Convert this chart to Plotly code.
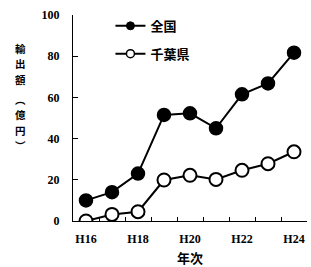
import plotly.graph_objects as go

years = ["H16", "H17", "H18", "H19", "H20", "H21", "H22", "H23", "H24"]
tick_labels = ["H16", "", "H18", "", "H20", "", "H22", "", "H24"]
national = [10, 14, 23, 51.5, 52.3, 45, 61.5, 66.8, 81.7]
chiba = [0, 3.2, 4.5, 19.9, 22.2, 20.2, 24.6, 27.8, 33.6]
y_ticks = [0, 20, 40, 60, 80, 100]
ytitle_top = ["輸", "出", "額"]
ytitle_bottom = ["︵", "億", "円", "︶"]

W, H = 311, 267
L, R, T, B = 73, 4, 15, 46
pw, ph = W - L - R, H - T - B


def px_to_paper(xp, yp):
    return (xp - L) / pw, (H - B - yp) / ph


fig = go.Figure()
fig.add_trace(go.Scatter(x=years, y=national, mode="lines+markers", showlegend=False,
                         line=dict(color="black", width=2),
                         marker=dict(size=13, color="black", line=dict(color="black", width=1.5))))
fig.add_trace(go.Scatter(x=years, y=chiba, mode="lines+markers", showlegend=False,
                         line=dict(color="black", width=2),
                         marker=dict(size=13, color="white", line=dict(color="black", width=2))))
# legend entries with smaller markers
fig.add_trace(go.Scatter(x=[None], y=[None], mode="lines+markers", name="全国", legendgroup="a",
                         line=dict(color="black", width=2),
                         marker=dict(size=8, color="black", line=dict(color="black", width=1))))
fig.add_trace(go.Scatter(x=[None], y=[None], mode="lines+markers", name="千葉県", legendgroup="b",
                         line=dict(color="black", width=2),
                         marker=dict(size=8, color="white", line=dict(color="black", width=1.5))))


def stacked(chars):
    return "<br>".join('<span style="font-size:10.5px">%s</span>' % c for c in chars)


anns = []
x1, y1 = px_to_paper(20, 64)
anns.append(dict(x=x1, y=y1, xref="paper", yref="paper", text=stacked(ytitle_top), showarrow=False,
                 font=dict(family="Noto Sans CJK JP", size=11.9, color="black", weight="bold"),
                 xanchor="center", yanchor="middle"))
x2, y2 = px_to_paper(20, 122)
anns.append(dict(x=x2, y=y2, xref="paper", yref="paper", text=stacked(ytitle_bottom), showarrow=False,
                 font=dict(family="Noto Sans CJK JP", size=11.9, color="black", weight="bold"),
                 xanchor="center", yanchor="middle"))

fig.update_layout(
    width=W, height=H,
    margin=dict(l=L, r=R, t=T, b=B, autoexpand=False),
    paper_bgcolor="white", plot_bgcolor="white",
    font=dict(family="Liberation Serif", color="black"),
    annotations=anns,
    legend=dict(x=0.16, y=1.02, xanchor="left", yanchor="top", bgcolor="rgba(0,0,0,0)",
                font=dict(family="Noto Sans CJK JP", size=13, color="black", weight="bold"),
                tracegroupgap=8, itemwidth=30),
    xaxis=dict(type="category", categoryorder="array", categoryarray=years,
               range=[-0.5, 8.5], tickvals=years, ticktext=tick_labels, tickson="boundaries",
               tickangle=0, automargin=False, ticklabelstandoff=7,
               ticks="inside", ticklen=4, tickcolor="black", showline=True, linecolor="black",
               linewidth=1, showgrid=False, zeroline=False,
               tickfont=dict(family="Liberation Serif", size=12, color="black", weight="bold"),
               title=dict(text="年次", font=dict(family="Noto Sans CJK JP", size=13, weight="bold"),
                          standoff=10)),
    yaxis=dict(range=[0, 100], tickvals=y_ticks, ticks="inside", ticklen=5, tickcolor="black",
               automargin=False,
               showline=True, linecolor="black", linewidth=1, showgrid=False, zeroline=False,
               tickfont=dict(family="Liberation Serif", size=12, color="black", weight="bold"),
               ticklabelstandoff=10),
)

fig.write_html("out.html")
